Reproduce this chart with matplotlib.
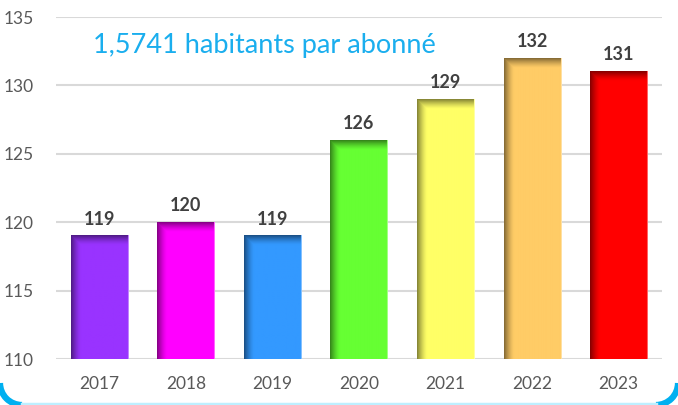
import numpy as np
import matplotlib
matplotlib.use("Agg")
import matplotlib.pyplot as plt
from matplotlib.patches import Arc
from matplotlib.lines import Line2D
from matplotlib.colors import to_rgb

years = ["2017", "2018", "2019", "2020", "2021", "2022", "2023"]
values = [119, 120, 119, 126, 129, 132, 131]
colors = ["#9933FF", "#FF00FF", "#3399FF", "#66FF33", "#FFFF66", "#FFCC66", "#FF0000"]
title = "1,5741 habitants par abonné"
yticks = [110, 115, 120, 125, 130, 135]

W, H = 678, 405
fig = plt.figure(figsize=(W / 100, H / 100), dpi=100)
fig.patch.set_facecolor("white")
ax = fig.add_axes([56 / W, 46 / H, 606 / W, 342 / H])
ax.set_xlim(-0.5, 6.5)
ax.set_ylim(110, 135)
ax.set_facecolor("white")
for s in ax.spines.values():
    s.set_visible(False)
ax.set_yticks(yticks)
ax.yaxis.grid(True, color="#D9D9D9", lw=1.5)
ax.set_axisbelow(True)
ax.tick_params(length=0)
ax.tick_params(axis="y", pad=16)
ax.tick_params(axis="x", pad=12)
ax.set_xticks(range(len(years)))
ax.set_xticklabels(years)
for lab in ax.get_xticklabels() + ax.get_yticklabels():
    lab.set_fontfamily("Lato")
    lab.set_fontsize(12.5)
    lab.set_color("#595959")

bw = 0.66
px_per_x = 606 / 7
px_per_y = 342 / 25
for i, (v, c) in enumerate(zip(values, colors)):
    x0, x1 = i - bw / 2, i + bw / 2
    wpx = int(round(bw * px_per_x))
    hpx = int(round((v - 110) * px_per_y))
    xx = np.arange(wpx)[None, :] + 0.5
    yy = np.arange(hpx)[:, None] + 0.5
    left = np.clip(1 - xx / 10.0, 0, 1) ** 1.4
    top = np.clip(1 - yy / 10.0, 0, 1) ** 1.4
    shade = 1 - 0.5 * np.maximum(left, top)
    base = np.array(to_rgb(c))
    img = base[None, None, :] * shade[:, :, None]
    # thin light right edge
    img[:, -1, :] = 0.6 * base + 0.4
    ax.imshow(img, extent=(x0, x1, 110, v), aspect="auto", origin="upper",
              interpolation="bilinear", zorder=2)
    ax.annotate(str(v), (i, v), xytext=(0, 6), textcoords="offset points",
                ha="center", va="bottom", fontsize=13, fontweight="bold",
                fontfamily="Lato", color="#404040", zorder=3)
ax.set_xlim(-0.5, 6.5)
ax.set_ylim(110, 135)

fig.text(93 / W, 1 - 46 / H, title, fontsize=19.5, fontfamily="Lato",
         color="#1AAEEE", ha="left", va="center")

# frame corners
r = 22
fig.add_artist(Arc((r / W, r / H), 2 * r / W, 2 * r / H, theta1=180, theta2=270,
                   transform=fig.transFigure, color="#00B0F0", lw=4.5))
fig.add_artist(Arc((1 - r / W, r / H), 2 * r / W, 2 * r / H, theta1=270, theta2=360,
                   transform=fig.transFigure, color="#00B0F0", lw=4.5))
fig.add_artist(Line2D([r / W, 1 - r / W], [1.5 / H, 1.5 / H], transform=fig.transFigure,
                      color="#BDEFFF", lw=2.5))

fig.savefig("out.png", dpi=100)
